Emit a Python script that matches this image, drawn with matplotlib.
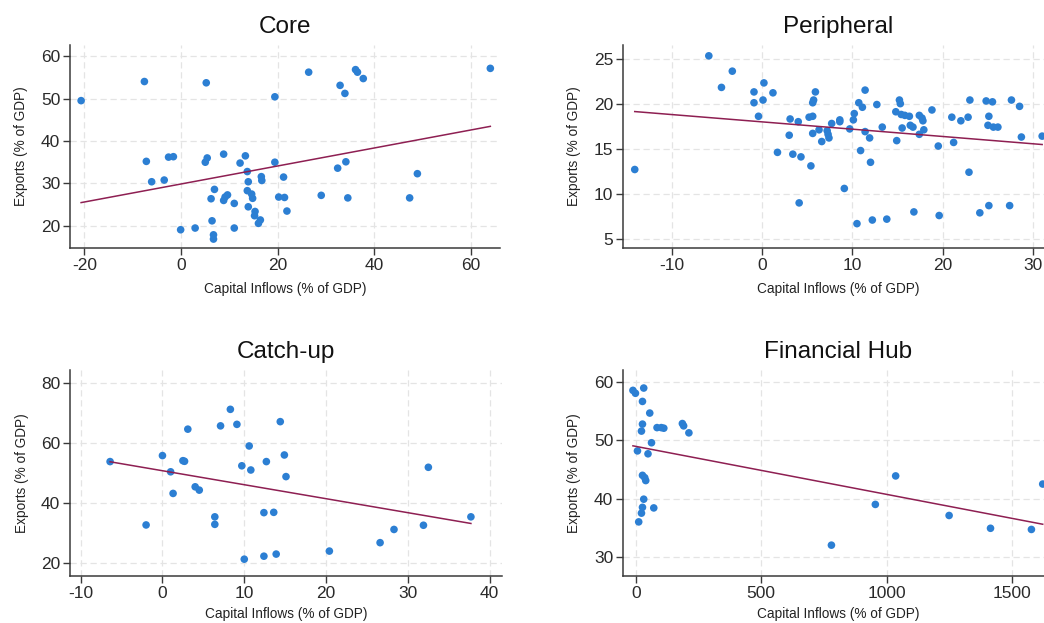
import numpy as np
import matplotlib
matplotlib.use("Agg")
import matplotlib.pyplot as plt

plt.rcParams["font.family"] = ["Liberation Sans", "DejaVu Sans"]
plt.rcParams["axes.unicode_minus"] = False

# ---- data: capital inflows vs exports (% of GDP) by country group ----
core_x = [-20.7, -7.6, 5.2, -7.2, -6.1, -3.5, -2.6, -1.6, 5.0, 5.4, 8.8, 13.3, 12.2,
          19.4, 13.7, 16.6, 16.7, 21.2, 13.9, 6.9, 13.7, 14.6, 14.8, 9.6, 9.1, 8.8,
          6.2, 11.0, 20.2, 21.4, 13.9, 21.9, 15.3, 15.2, 16.4, 16.0, 6.4, -0.1, 2.9,
          11.0, 6.7, 6.7, 64.0, 26.4, 36.1, 36.5, 37.7, 32.9, 33.9, 19.4, 34.1, 32.4,
          48.9, 29.0, 34.5, 47.3]
core_y = [49.5, 54.0, 53.7, 35.2, 30.4, 30.8, 36.2, 36.3, 35.0, 36.0, 36.9, 36.5, 34.8,
          35.0, 32.8, 31.6, 30.7, 31.5, 30.4, 28.6, 28.3, 27.5, 26.5, 27.3, 26.8, 26.0,
          26.4, 25.3, 26.8, 26.7, 24.5, 23.5, 23.4, 22.4, 21.4, 20.6, 21.2, 19.1, 19.5,
          19.5, 17.9, 16.9, 57.1, 56.2, 56.8, 56.2, 54.7, 53.1, 51.2, 50.4, 35.1, 33.6,
          32.3, 27.2, 26.6, 26.6]

peri_x = [-14.1, -5.9, -3.3, -4.5, 0.2, -0.9, -0.9, 0.1, 1.2, -0.4, 1.7, 3.1, 4.0, 3.0,
          3.4, 4.3, 5.4, 4.1, 5.9, 5.7, 5.6, 5.2, 5.6, 5.6, 6.3, 6.6, 7.2, 7.3, 7.4, 7.7,
          8.6, 8.6, 9.1, 9.7, 10.2, 10.1, 10.7, 11.1, 11.4, 12.7, 11.4, 11.9, 10.9, 12.0,
          13.3, 10.5, 12.2, 13.8, 15.2, 15.3, 14.8, 15.4, 15.8, 16.3, 16.4, 16.7, 15.5,
          17.4, 17.7, 17.8, 17.9, 17.4, 18.8, 14.9, 19.5, 21.0, 21.2, 22.0, 22.8, 23.0,
          22.9, 24.8, 25.5, 25.1, 25.0, 25.6, 26.1, 27.6, 28.5, 28.7, 31.0, 16.8, 19.6,
          24.1, 25.1, 27.4]
peri_y = [12.7, 25.3, 23.6, 21.8, 22.3, 21.3, 20.1, 20.4, 21.2, 18.6, 14.6, 18.3, 18.0,
          16.5, 14.4, 14.1, 13.1, 9.0, 21.3, 20.4, 20.1, 18.5, 18.6, 16.7, 17.1, 15.8,
          17.0, 16.6, 16.2, 17.8, 18.2, 18.0, 10.6, 17.2, 18.9, 18.2, 20.1, 19.6, 21.5,
          19.9, 16.9, 16.2, 14.8, 13.5, 17.4, 6.7, 7.1, 7.2, 20.4, 20.0, 19.1, 18.8,
          18.7, 18.6, 17.6, 17.4, 17.3, 18.7, 18.4, 18.1, 17.1, 16.6, 19.3, 15.9, 15.3,
          18.5, 15.7, 18.1, 18.5, 20.4, 12.4, 20.3, 20.2, 18.6, 17.6, 17.4, 17.4, 20.4,
          19.7, 16.3, 16.4, 8.0, 7.6, 7.9, 8.7, 8.7]

catch_x = [-6.4, -2.0, 0.0, 1.0, 1.3, 2.5, 2.7, 3.1, 4.0, 4.5, 6.4, 6.4, 7.1, 8.3, 9.1,
           10.6, 9.7, 10.8, 10.0, 14.4, 12.7, 14.9, 15.1, 12.4, 13.6, 12.4, 13.9, 20.4,
           26.6, 28.3, 31.9, 32.5, 37.7]
catch_y = [53.7, 32.6, 55.7, 50.3, 43.1, 54.0, 53.8, 64.5, 45.3, 44.2, 35.3, 32.8, 65.6,
           71.1, 66.1, 58.9, 52.3, 50.9, 21.2, 67.0, 53.7, 55.9, 48.7, 36.7, 36.8, 22.2,
           22.9, 23.9, 26.7, 31.1, 32.5, 51.8, 35.3]

hub_x = [-11, -1, 32, 27, 56, 27, 23, 85, 102, 112, 186, 191, 212, 63, 7, 49, 27, 36,
         40, 32, 27, 23, 72, 12, 780, 955, 1036, 1249, 1414, 1577, 1622]
hub_y = [58.6, 58.1, 59.0, 56.7, 54.7, 52.8, 51.6, 52.2, 52.2, 52.1, 52.9, 52.5, 51.3,
         49.6, 48.2, 47.7, 44.0, 43.6, 43.1, 39.9, 38.5, 37.5, 38.4, 36.0, 32.0, 39.0,
         43.9, 37.1, 34.9, 34.7, 42.5]

titles = ["Core", "Peripheral", "Catch-up", "Financial Hub"]
x_label = "Capital Inflows (% of GDP)"
y_label = "Exports (% of GDP)"

# ---- styling ----
DOT = "#2c7fd3"
FIT = "#8e1f52"
AXIS = "#3a3a3a"
GRID = "#e4e4e4"

W, H = 1044, 623
fig = plt.figure(figsize=(W / 100, H / 100), dpi=100)
fig.patch.set_facecolor("white")


def px_axes(left, top, right, bottom):
    return fig.add_axes([left / W, 1 - bottom / H, (right - left) / W, (bottom - top) / H])


panels = [
    dict(x=core_x, y=core_y, box=(70, 45, 500, 248), xlim=(-23, 66.0), ylim=(14.8, 62.6),
         xt=[-20, 0, 20, 40, 60], yt=[20, 30, 40, 50, 60], xpad=7),
    dict(x=peri_x, y=peri_y, box=(623, 45, 1053, 248), xlim=(-15.4, 32.2), ylim=(4.0, 26.5),
         xt=[-10, 0, 10, 20, 30], yt=[5, 10, 15, 20, 25], xpad=7),
    dict(x=catch_x, y=catch_y, box=(70, 370, 502, 576), xlim=(-11.3, 41.5), ylim=(15.6, 84.2),
         xt=[-10, 0, 10, 20, 30, 40], yt=[20, 40, 60, 80], xpad=4.5),
    dict(x=hub_x, y=hub_y, box=(623, 370, 1053, 576), xlim=(-50.6, 1663), ylim=(26.7, 62.1),
         xt=[0, 500, 1000, 1500], yt=[30, 40, 50, 60], xpad=4.5),
]

for title, p in zip(titles, panels):
    ax = px_axes(*p["box"])
    x = np.asarray(p["x"], float)
    y = np.asarray(p["y"], float)

    ax.scatter(x, y, s=30, color=DOT, edgecolors="none", zorder=3)

    # linear fit over the observed range
    slope, intercept = np.polyfit(x, y, 1)
    xs = np.array([x.min(), x.max()])
    ax.plot(xs, intercept + slope * xs, color=FIT, lw=1.1, zorder=4)

    ax.set_xlim(*p["xlim"])
    ax.set_ylim(*p["ylim"])
    ax.set_xticks(p["xt"])
    ax.set_yticks(p["yt"])
    ax.grid(True, color=GRID, lw=0.9, ls=(0, (5, 3)), zorder=0)
    ax.set_axisbelow(True)

    for s in ("top", "right"):
        ax.spines[s].set_visible(False)
    for s in ("left", "bottom"):
        ax.spines[s].set_color(AXIS)
        ax.spines[s].set_linewidth(1.1)

    ax.tick_params(axis="both", colors=AXIS, labelcolor="#2a2a2a", labelsize=12.5,
                   length=5, width=1.0, pad=2)
    ax.set_title(title, fontsize=17.5, color="#111111", pad=8.5)
    ax.set_xlabel(x_label, fontsize=9.8, color="#222222", labelpad=p["xpad"])
    ax.set_ylabel(y_label, fontsize=9.8, color="#222222", labelpad=9)

fig.savefig("out.png", dpi=100, facecolor="white")
